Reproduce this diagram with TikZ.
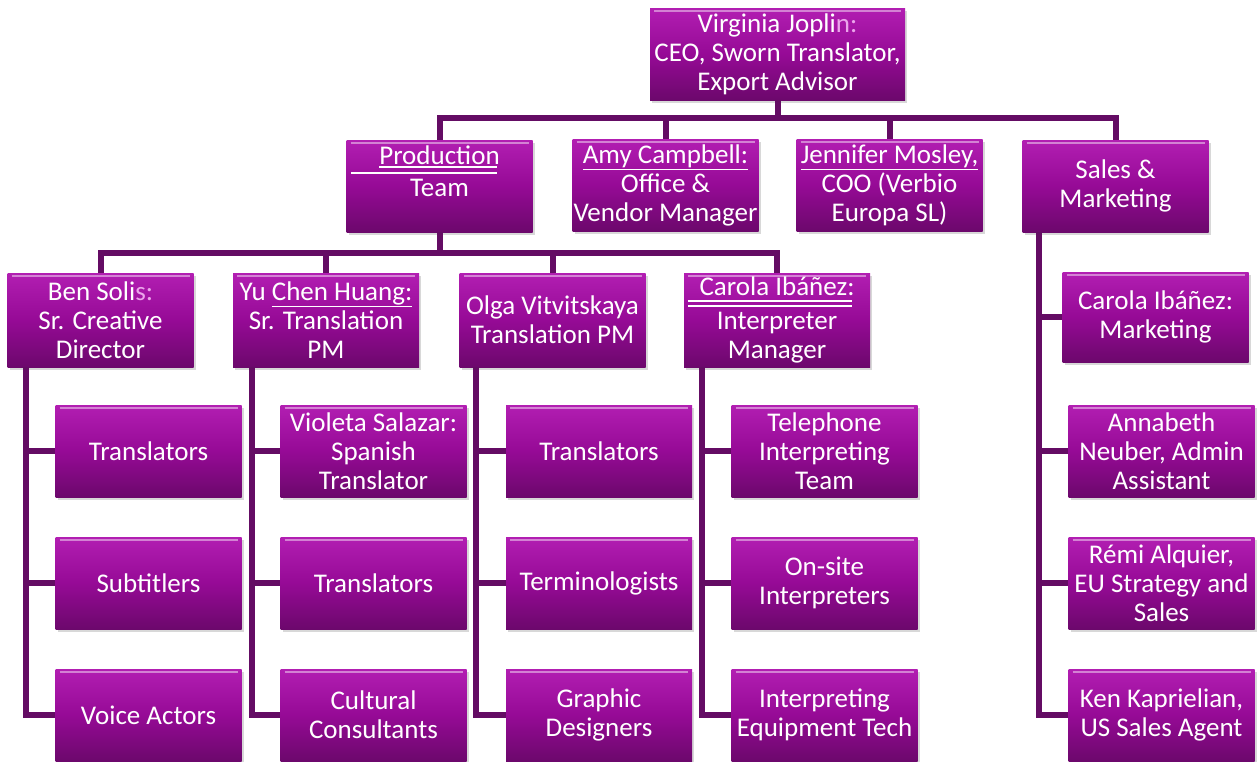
\documentclass[tikz,border=0pt]{standalone}
\usepackage{fontspec}
\setmainfont{Carlito}
\usetikzlibrary{shadows,calc}
\definecolor{conn}{RGB}{100,12,100}
\definecolor{boxtop}{RGB}{178,30,178}
\definecolor{boxmid}{RGB}{150,10,150}
\definecolor{boxbot}{RGB}{108,8,108}
\definecolor{pinkt}{RGB}{235,165,235}
\tikzset{
  orgbox/.style={draw=none, top color=boxtop, bottom color=boxbot, middle color=boxmid,
    text=white, align=center, inner sep=0pt, font=\fontsize{27}{29}\selectfont,
    minimum width=186pt, minimum height=92pt,
    drop shadow={opacity=0.3, shadow xshift=2pt, shadow yshift=-3pt},
    path picture={\draw[white, opacity=0.45, line width=1.5pt]
      ($(path picture bounding box.north west)+(4,3)$) -- ($(path picture bounding box.north east)+(-4,3)$);}},
  link/.style={draw=conn, line width=6pt},
  wline/.style={draw=white, line width=2.2pt},
}
\begin{document}
\begin{tikzpicture}[x=1pt,y=-1pt]
\fill[white] (0,0) rectangle (1257,761);
\useasboundingbox (0,0) rectangle (1257,761);

% top
\node[orgbox, minimum width=255pt] (ceo) at (777.5,54) {Virginia Jopli{\color{pinkt}n:}\\CEO, Sworn Translator,\\Export Advisor};
% level 2
\node[orgbox] (prod) at (439.5,186) {Production\\[3pt]Team\\[-8pt]\strut};
\node[orgbox] (amy) at (665.5,185) {\underline{Amy Campbell:}\\Office \&\\Vendor Manager};
\node[orgbox] (jen) at (889.5,185) {\underline{Jennifer Mosley,}\\COO (Verbio\\Europa SL)};
\node[orgbox] (sales) at (1115.5,186) {Sales \&\\Marketing};
% level 3
\node[orgbox, minimum height=94pt] (ben) at (100.5,320) {Ben Soli{\color{pinkt}s:}\\Sr. Creative\\Director};
\node[orgbox, minimum height=94pt] (yu) at (326,320) {Yu \underline{Chen Huang:}\\Sr. Translation\\PM};
\node[orgbox, minimum height=94pt] (olga) at (552.5,320) {Olga Vitvitskaya\\Translation PM};
\node[orgbox, minimum height=94pt] (carola) at (777,320) {Carola Ibáñez:\\[5pt]Interpreter\\Manager};
\node[orgbox, minimum height=90pt] (cmkt) at (1155.5,317) {Carola Ibáñez:\\Marketing};
% children
\node[orgbox] (bk1) at (148.5,451) {Translators};
\node[orgbox] (bk2) at (148.5,583) {Subtitlers};
\node[orgbox] (bk3) at (148.5,715) {Voice Actors};
\node[orgbox] (yk1) at (373.5,451) {Violeta Salazar:\\Spanish\\Translator};
\node[orgbox] (yk2) at (373.5,583) {Translators};
\node[orgbox] (yk3) at (373.5,715) {Cultural\\Consultants};
\node[orgbox] (ok1) at (599,451) {Translators};
\node[orgbox] (ok2) at (599,583) {Terminologists};
\node[orgbox] (ok3) at (599,715) {Graphic\\Designers};
\node[orgbox] (ck1) at (824.5,451) {Telephone\\Interpreting\\Team};
\node[orgbox] (ck2) at (824.5,583) {On-site\\Interpreters};
\node[orgbox] (ck3) at (824.5,715) {Interpreting\\Equipment Tech};
\node[orgbox] (sk1) at (1161.5,451) {Annabeth\\Neuber, Admin\\Assistant};
\node[orgbox] (sk2) at (1161.5,583) {Rémi Alquier,\\EU Strategy and\\Sales};
\node[orgbox] (sk3) at (1161.5,715) {Ken Kaprielian,\\US Sales Agent};

% extra white underlines
\draw[wline, line width=1.8pt] ($(prod.north west)+(33,27)$) -- ($(prod.north west)+(151,27)$);
\draw[wline] ($(prod.north west)+(5,33)$) -- ($(prod.north west)+(151,33)$);
\draw[wline] ($(carola.north west)+(4,28)$) -- ($(carola.north west)+(168,28)$);
\draw[wline] ($(carola.north west)+(4,33)$) -- ($(carola.north west)+(168,33)$);

% connectors level 1-2
\coordinate (b1) at (0,118);
\draw[link] (ceo.south) -- (ceo.south |- b1);
\draw[link] (prod.north) -- (prod.north |- b1) -- (sales.north |- b1) -- (sales.north);
\draw[link] (amy.north |- b1) -- (amy.north);
\draw[link] (jen.north |- b1) -- (jen.north);
% connectors level 2-3
\coordinate (b2) at (0,253);
\draw[link] (prod.south) -- (prod.south |- b2);
\draw[link] (ben.north) -- (ben.north |- b2) -- (carola.north |- b2) -- (carola.north);
\draw[link] (yu.north |- b2) -- (yu.north);
\draw[link] (olga.north |- b2) -- (olga.north);
% children
\coordinate (bv) at ($(ben.south west)+(19,0)$);
\draw[link] (bv) |- (bk3.west); \draw[link] (bv) |- (bk2.west); \draw[link] (bv) |- (bk1.west);
\coordinate (yv) at ($(yu.south west)+(19,0)$);
\draw[link] (yv) |- (yk3.west); \draw[link] (yv) |- (yk2.west); \draw[link] (yv) |- (yk1.west);
\coordinate (ov) at ($(olga.south west)+(17,0)$);
\draw[link] (ov) |- (ok3.west); \draw[link] (ov) |- (ok2.west); \draw[link] (ov) |- (ok1.west);
\coordinate (cv) at ($(carola.south west)+(18,0)$);
\draw[link] (cv) |- (ck3.west); \draw[link] (cv) |- (ck2.west); \draw[link] (cv) |- (ck1.west);
\coordinate (sv) at ($(sales.south west)+(17,0)$);
\draw[link] (sv) |- (sk3.west); \draw[link] (sv) |- (sk2.west); \draw[link] (sv) |- (sk1.west); \draw[link] (sv) |- (cmkt.west);
\end{tikzpicture}
\end{document}
